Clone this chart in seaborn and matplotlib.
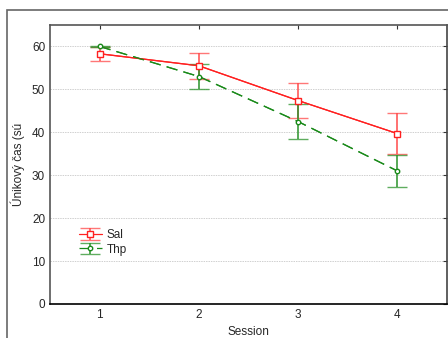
import matplotlib
matplotlib.use("Agg")
import matplotlib.pyplot as plt
from matplotlib.patches import Rectangle
import seaborn as sns
import pandas as pd

sessions = [1, 2, 3, 4]
sal_mean = [58.3, 55.5, 47.4, 39.7]
sal_err = [1.6, 3.0, 4.0, 4.8]
thp_mean = [60.0, 53.0, 42.5, 31.0]
thp_err = [0.1, 2.8, 4.1, 3.8]
groups = ["Sal", "Thp"]

sns.set_style("white")
plt.rcParams['font.family'] = ['Liberation Sans', 'DejaVu Sans']

df = pd.DataFrame({
    "Session": sessions * 2,
    "value": sal_mean + thp_mean,
    "group": [groups[0]] * 4 + [groups[1]] * 4,
})

fig = plt.figure(figsize=(4.48, 3.38), dpi=100)
ax = fig.add_axes([50 / 448, 1 - 304 / 338, 397 / 448, 279 / 338])

red = "#ff2020"
green = "#1a8a1a"
palette = {"Sal": red, "Thp": green}

sns.lineplot(data=df, x="Session", y="value", hue="group", style="group",
             palette=palette, dashes={"Sal": "", "Thp": (9, 5)},
             markers={"Sal": "s", "Thp": "o"}, ax=ax, legend=False, lw=0.9,
             markersize=0)

h1 = ax.errorbar(sessions, sal_mean, yerr=sal_err, color=red, lw=0.9, ls="-",
                 marker="s", ms=4.5, mfc="white", mec=red, mew=1.0,
                 ecolor="#ff4a4a", elinewidth=1.1, capsize=7.2, capthick=1.5,
                 label="Sal", zorder=3)
h2 = ax.errorbar(sessions, thp_mean, yerr=thp_err, color=green, lw=0.9,
                 ls=(0, (9, 5)), marker="o", ms=3.2, mfc="white", mec=green,
                 mew=1.0, ecolor="#2a922a", elinewidth=1.1, capsize=7.2,
                 capthick=1.5, label="Thp", zorder=3)
for h in (h1, h2):
    for cap in h[1]:
        cap.set_alpha(0.75)

ax.set_xlim(0.5, 4.5)
ax.set_ylim(0, 65)
ax.set_xticks(sessions)
ax.set_yticks([0, 10, 20, 30, 40, 50, 60])
ax.yaxis.grid(True, color="#d0d0d0", ls=(0, (1.5, 1)), lw=0.7)
ax.xaxis.grid(False)
ax.tick_params(axis="both", direction="in", length=3, width=0.8,
               labelsize=8.5, top=True, right=True, color="#333333")
ax.set_xlabel("Session", fontsize=8.5, labelpad=4)
ax.set_ylabel("Únikový čas (sú", fontsize=8.5, labelpad=5)
for side, c in (("left", "#555555"), ("top", "#555555"),
                ("right", "#444444"), ("bottom", "#000000")):
    ax.spines[side].set_color(c)
    ax.spines[side].set_linewidth(1.2)

leg = ax.legend(handles=[h1, h2], labels=groups, loc="upper left",
                bbox_to_anchor=(0.06, 0.285), frameon=False, fontsize=8.5,
                handlelength=2.0, handletextpad=0.4, labelspacing=0.2,
                borderaxespad=0)

fig.add_artist(Rectangle((7 / 448, -0.1), 1.2, 1 - 10 / 338 + 0.1,
                         transform=fig.transFigure, fill=False,
                         edgecolor="#666666", lw=1.2))

fig.savefig("out.png", dpi=100)
